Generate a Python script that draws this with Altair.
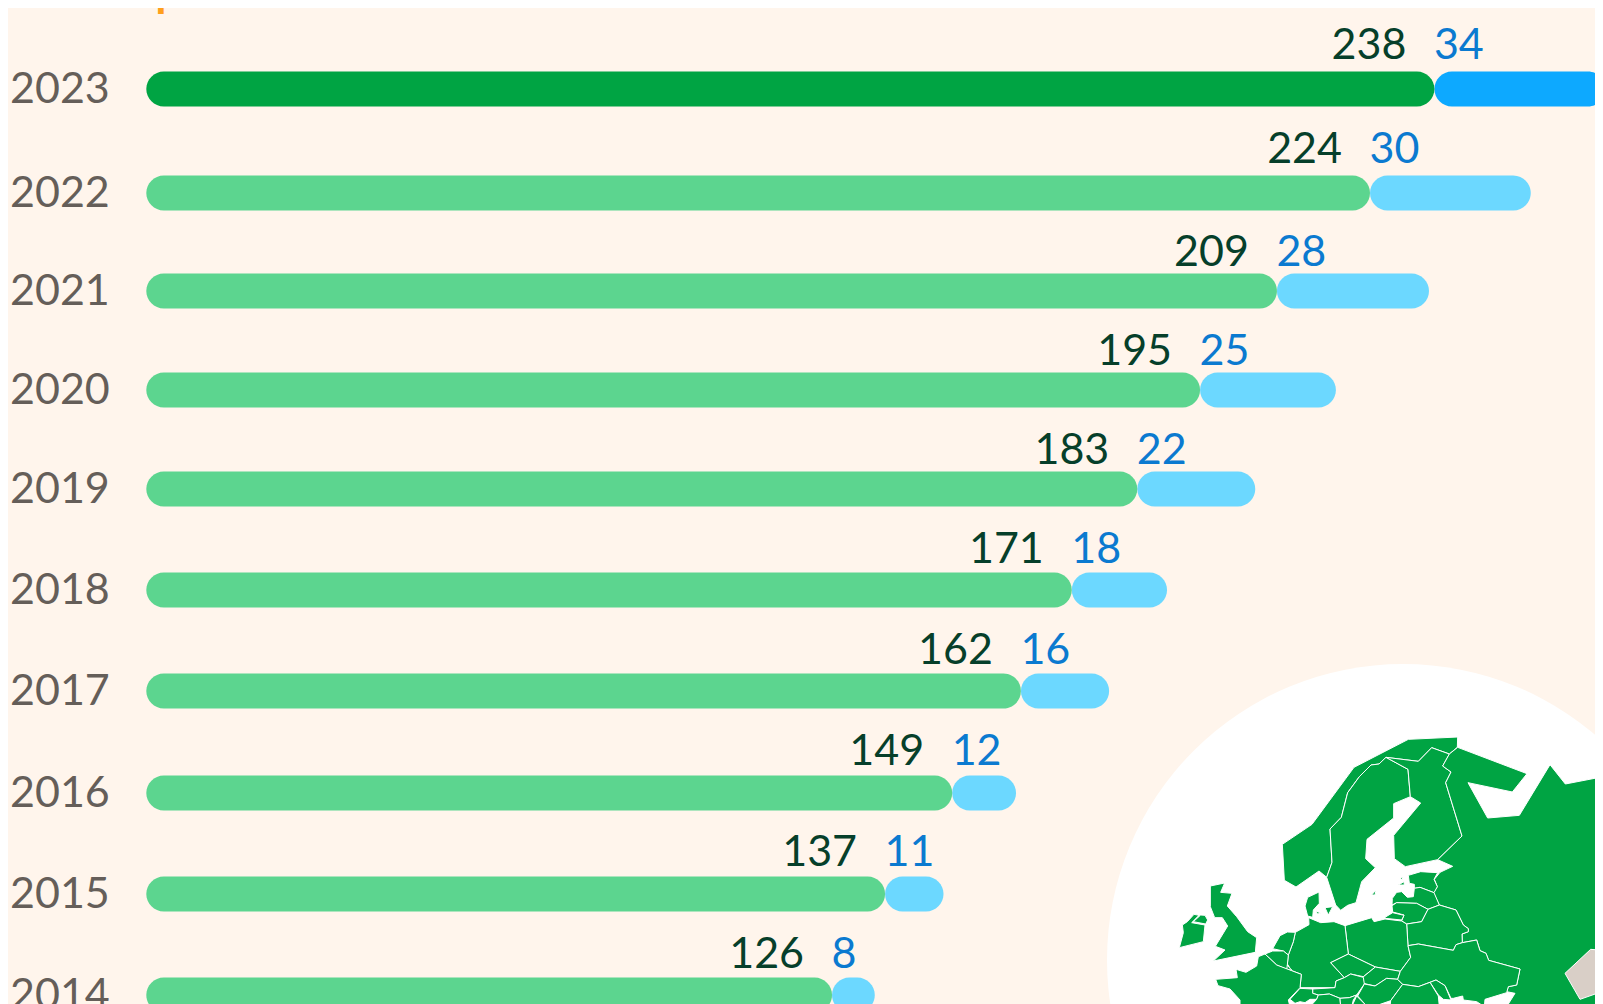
import altair as alt
import pandas as pd

years = [2023, 2022, 2021, 2020, 2019, 2018, 2017, 2016, 2015, 2014]
eu_labels = [238, 224, 209, 195, 183, 171, 162, 149, 137, 126]
other_labels = [34, 30, 28, 25, 22, 18, 16, 12, 11, 8]
# bar lengths (they differ slightly from the printed labels in places)
eu_lengths = [238, 226.1, 208.9, 194.7, 183.1, 171, 161.6, 148.9, 136.5, 126.7]
other_lengths = [31.6, 29.7, 28.1, 25.1, 21.8, 17.6, 16.3, 11.8, 10.8, 7.9]

BG = "#FFF5EC"
FONT = "Lato"

df = pd.DataFrame({
    "year": years,
    "eu": eu_labels,
    "other": other_labels,
    "start": [0] * len(years),
    "eu_end": eu_lengths,
    "all_end": [a + b for a, b in zip(eu_lengths, other_lengths)],
})

x_scale = alt.Scale(domain=[0, 269.15], range=[138.3, 1595], nice=False, zero=False)
y_scale = alt.Scale(domain=years, range=[81, 185, 283, 382, 481, 582, 683, 785, 886, 987], nice=False, zero=False, padding=0)
label_y_scale = alt.Scale(domain=years, range=[82, 186, 289, 388, 487, 586, 687, 788, 889, 991], nice=False, zero=False, padding=0)
X = lambda f: alt.X(f, type="quantitative", scale=x_scale, axis=None)
Y = alt.Y("year:Q", scale=y_scale, axis=None)
Y_LABEL = alt.Y("year:Q", scale=label_y_scale, axis=None)

is_top = alt.datum.year == 2023

# decorative map outlines
green_shapes = [
    [(985,298),(1133,291),(1132,322),(1108,342),(1055,323),(1015,364),(918,352),(897,372),(873,375),(838,410),(803,458),(784,532),(750,567),(756,667),(740,712),(717,693),(648,741),(613,721),(607,613),(696,553),(822,382)],
    [(918,352),(984,388),(991,470),(941,491),(941,534),(861,598),(857,656),(886,683),(845,725),(828,788),(803,796),(782,811),(767,795),(740,712),(756,667),(750,567),(784,532),(803,458),(838,410),(873,375),(897,372)],
    [(918,352),(1015,364),(1055,323),(1108,342),(1088,378),(1113,396),(1097,428),(1146,588),(1073,659),(976,680),(943,656),(941,586),(1022,489),(991,470),(984,388)],
    [(1133,322),(1341,401),(1297,456),(1164,428),(1223,534),(1318,526),(1410,374),(1456,432),(1580,408),(1580,1100),(1280,1100),(1305,1060),(1280,1055),(1285,1040),(1310,1035),(1320,987),(1226,961),(1218,940),(1200,932),(1190,900),(1147,908),(1146,882),(1165,875),(1165,866),(1150,855),(1128,810),(1078,795),(1060,758),(1072,740),(1063,718),(1080,697),(1118,679),(1073,659),(1146,588),(1097,428),(1113,396),(1088,378),(1108,342)],
    [(985,706),(1022,695),(1073,698),(1062,718),(1072,740),(1062,758),(1020,742),(1003,745),(1003,733),(988,730)],
    [(937,775),(950,757),(965,755),(982,772),(1000,770),(1003,745),(1020,742),(1062,758),(1078,795),(1044,808),(1010,790),(950,788),(936,795)],
    [(936,797),(950,788),(1010,790),(1044,808),(1025,845),(980,852),(965,843),(972,825),(938,816)],
    [(915,832),(938,818),(972,826),(965,840),(915,835)],
    [(1044,808),(1078,795),(1128,810),(1150,855),(1165,866),(1165,875),(1146,882),(1147,908),(1128,914),(1120,931),(1015,912),(984,917),(980,852),(1025,845)],
    [(795,857),(875,833),(882,845),(915,837),(965,843),(980,852),(984,917),(992,952),(961,994),(886,981),(805,942)],
    [(686,833),(722,848),(762,845),(795,857),(805,942),(752,968),(793,1013),(768,1023),(765,1043),(660,1043),(664,1003),(635,992),(622,972),(625,945),(640,905),(646,877),(687,854)],
    [(683,772),(717,756),(718,790),(700,810),(698,832),(683,828),(675,798)],
    [(735,803),(758,800),(745,825)],
    [(708,812),(722,820),(712,822)],
    [(600,887),(622,876),(646,877),(640,905),(625,945),(610,933),(578,926)],
    [(555,942),(578,933),(610,933),(625,945),(622,975),(625,990),(590,975)],
    [(622,975),(630,985),(635,990),(620,990)],
    [(535,950),(555,942),(590,975),(635,992),(664,1003),(660,1043),(625,1080),(630,1100),(480,1100),(480,1080),(450,1047),(414,1037),(407,1018),(472,1013),(468,988),(498,997),(530,978)],
    [(391,738),(434,729),(422,757),(456,760),(442,798),(470,830),(503,875),(530,893),(526,937),(400,963),(435,930),(406,919),(443,858),(427,833),(404,833),(391,800)],
    [(340,845),(362,825),(375,826),(383,840),(377,852)],
    [(307,855),(322,845),(342,823),(357,826),(335,848),(375,855),(370,905),(298,923),(310,878)],
    [(752,968),(805,942),(886,981),(850,1010),(812,1002),(793,1013)],
    [(886,981),(961,994),(953,1018),(920,1015),(885,1038),(850,1030),(848,1012)],
    [(793,1013),(812,1002),(850,1012),(853,1032),(830,1065),(808,1073),(780,1075),(748,1062),(715,1065),(698,1060),(698,1047),(765,1043),(768,1023)],
    [(853,1032),(885,1038),(920,1015),(953,1018),(968,1033),(932,1082),(880,1100),(862,1100),(833,1068)],
    [(984,917),(1015,912),(1120,931),(1128,914),(1147,908),(1190,900),(1200,932),(1218,940),(1226,961),(1320,987),(1310,1035),(1285,1040),(1280,1058),(1215,1078),(1213,1100),(1190,1085),(1150,1080),(1148,1068),(1120,1075),(1113,1075),(1095,1037),(1068,1020),(1015,1040),(968,1033),(953,1018),(961,994),(992,952)],
    [(1050,1027),(1068,1020),(1095,1037),(1113,1080),(1090,1078),(1075,1065)],
    [(968,1033),(1015,1040),(1050,1027),(1075,1068),(1078,1100),(930,1100),(932,1082)],
    [(660,1045),(698,1047),(698,1060),(715,1065),(710,1078),(690,1078),(675,1088),(660,1085),(645,1090),(630,1078)],
    [(715,1065),(748,1062),(780,1075),(782,1100),(690,1100),(710,1078)],
    [(780,1075),(808,1073),(830,1065),(820,1080),(815,1100),(782,1100)],
    [(830,1068),(862,1100),(815,1100)],
    [(875,765),(888,750),(885,765)],
    [(955,735),(972,725),(973,735)],
    [(960,715),(968,712),(967,720)],
]
grey_shapes = [
    [(1455,1000),(1532,928),(1580,932),(1580,1050),(1500,1078)],
]


def features(shapes):
    return alt.InlineData(
        values={
            "type": "FeatureCollection",
            "features": [
                {
                    "type": "Feature",
                    "properties": {},
                    "geometry": {
                        "type": "Polygon",
                        "coordinates": [[list(p) for p in s] + [list(s[0])]],
                    },
                }
                for s in shapes
            ],
        },
        format=alt.DataFormat(property="features", type="json"),
    )


map_projection = dict(type="identity", scale=1 / 3, translate=[1072, 632])

green_map = alt.Chart(features(green_shapes)).mark_geoshape(
    fill="#00A443", stroke="white", strokeWidth=1
).project(**map_projection)
grey_map = alt.Chart(features(grey_shapes)).mark_geoshape(
    fill="#D9CFC7", stroke="white", strokeWidth=1
).project(**map_projection)

circle = alt.Chart(pd.DataFrame({"n": [0]})).mark_point(
    shape="circle", filled=True, fill="white", opacity=1, size=350464, strokeWidth=0
).encode(x=alt.value(1395), y=alt.value(952))

base = alt.Chart(df)

blue_bars = base.mark_bar(size=35, orient="horizontal", cornerRadius=17.5).encode(
    x=X("eu_end"), x2="all_end", y=Y,
    fill=alt.condition(is_top, alt.value("#0DA9FF"), alt.value("#6CD8FF")),
)
green_bars = base.mark_bar(size=35, orient="horizontal", cornerRadius=17.5).encode(
    x=X("start"), x2="eu_end", y=Y,
    fill=alt.condition(is_top, alt.value("#00A443"), alt.value("#5CD58F")),
)
eu_text = base.mark_text(
    font=FONT, fontSize=43, align="right", baseline="alphabetic", dx=-28, dy=-30.7, color="#063F2A"
).encode(x=X("eu_end"), y=Y_LABEL, text="eu:Q")
other_text = base.mark_text(
    font=FONT, fontSize=43, align="left", baseline="alphabetic", dx=-0.5, dy=-30.7, color="#0B7AD0"
).encode(x=X("eu_end"), y=Y_LABEL, text="other:Q")
year_text = base.mark_text(
    font=FONT, fontSize=43, align="left", baseline="alphabetic", dy=14.3, color="#655E59"
).encode(x=alt.value(2), y=Y, text="year:O")

title_frag = alt.Chart(pd.DataFrame({"t": ["in Europe"]})).mark_text(
    font=FONT, fontSize=46, fontWeight="bold", align="left", baseline="alphabetic", color="#FF9F1C"
).encode(x=alt.value(4), y=alt.value(-2), text="t:N")

chart = alt.layer(
    circle, green_map, grey_map, blue_bars, green_bars, eu_text, other_text, year_text, title_frag
).resolve_scale(x="shared", y="independent").properties(
    width=1587,
    height=996,
    padding=0,
    background=BG,
    autosize=alt.AutoSizeParams(type="none", contains="content"),
).configure_view(stroke=None)

chart.save("out.html", embed_options={"renderer": "svg", "actions": False})
